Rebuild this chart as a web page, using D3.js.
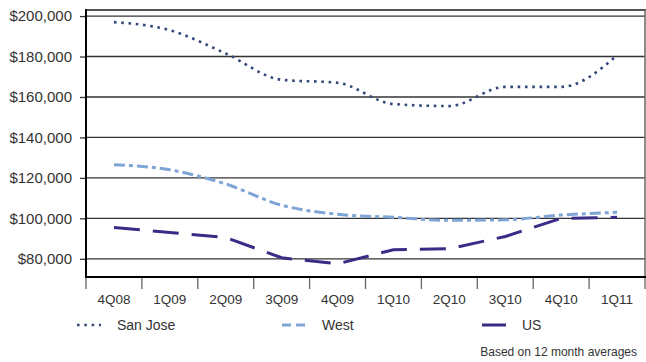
<!DOCTYPE html>
<html>
<head>
<meta charset="utf-8">
<script src="https://cdn.jsdelivr.net/npm/d3@7"></script>
<style>
  body { margin: 0; background: #fff; }
  svg { display: block; font-family: "Liberation Sans", Arial, sans-serif; }
</style>
</head>
<body>
<div id="chart"></div>
<script>
// quarters on x axis
let quarters = ["4Q08", "1Q09", "2Q09", "3Q09", "4Q09", "1Q10", "2Q10", "3Q10", "4Q10", "1Q11"];

// median prices
let sanJose = [197000, 193000, 181500, 168500, 167000, 156500, 155500, 165000, 165000, 180500];
let west    = [126500, 124000, 117000, 106500, 102000, 100500, 99000, 99300, 101600, 103000];
let us      = [95500, 93000, 90500, 80500, 77500, 84500, 85000, 91000, 100000, 100500];

let yTicks = [80000, 100000, 120000, 140000, 160000, 180000, 200000];

let width = 646, height = 362;

let svg = d3.select("#chart")
    .append("svg")
    .attr("width", width)
    .attr("height", height);

let xScale = d3.scaleBand()
    .domain(quarters)
    .range([86, 645])
    .padding(0);

let yScale = d3.scaleLinear()
    .domain([71000, 203000])
    .range([277, 10]);

let fmt = d => "$" + d3.format(",")(d);

// gridlines
svg.append("g")
    .selectAll("line")
    .data(yTicks)
    .enter()
    .append("line")
    .attr("x1", 86).attr("x2", 645)
    .attr("y1", d => yScale(d)).attr("y2", d => yScale(d))
    .attr("stroke", "#333")
    .attr("stroke-width", 1.3);

// top + right frame
svg.append("line")
    .attr("x1", 86).attr("x2", 646).attr("y1", 10).attr("y2", 10)
    .attr("stroke", "#555").attr("stroke-width", 2);
svg.append("line")
    .attr("x1", 645).attr("x2", 645).attr("y1", 10).attr("y2", 277)
    .attr("stroke", "#666").attr("stroke-width", 1.5);

// y axis
let yAxis = svg.append("g")
    .attr("transform", "translate(86,0)")
    .call(d3.axisLeft(yScale).tickValues(yTicks).tickSize(6).tickPadding(8).tickFormat(fmt));
yAxis.select(".domain").remove();
yAxis.selectAll(".tick line").attr("stroke", "#333").attr("stroke-width", 1.3);
yAxis.selectAll("text")
    .attr("font-size", "15px")
    .attr("font-family", "Liberation Sans, Arial, sans-serif")
    .attr("fill", "#333");

// x axis labels
let xAxis = svg.append("g")
    .attr("transform", "translate(0,277)")
    .call(d3.axisBottom(xScale).tickSize(0).tickPadding(17));
xAxis.select(".domain").remove();
xAxis.selectAll("text")
    .attr("font-size", "13.5px")
    .attr("font-family", "Liberation Sans, Arial, sans-serif")
    .attr("fill", "#333");

// x ticks at band edges
let edges = quarters.map(q => xScale(q)).concat([xScale.range()[1]]);
svg.append("g")
    .selectAll("line")
    .data(edges)
    .enter()
    .append("line")
    .attr("x1", d => d).attr("x2", d => d)
    .attr("y1", 277).attr("y2", 289)
    .attr("stroke", "#666").attr("stroke-width", 1.3);

// main axis lines
svg.append("line")
    .attr("x1", 86).attr("x2", 86).attr("y1", 9).attr("y2", 278)
    .attr("stroke", "#000").attr("stroke-width", 2);
svg.append("line")
    .attr("x1", 85).attr("x2", 646).attr("y1", 277).attr("y2", 277)
    .attr("stroke", "#000").attr("stroke-width", 2);

let cx = q => xScale(q) + xScale.bandwidth() / 2;

let series = [
    {name: "San Jose", values: sanJose, color: "#34477a", dash: "2.6,4.7", legDash: "2.6,4.7", width: 2.6, curve: d3.curveMonotoneX, lx: 77},
    {name: "West", values: west, color: "#7ea5d5", dash: "11,4,4,4", legDash: "9,5", width: 3, curve: d3.curveMonotoneX, lx: 282},
    {name: "US", values: us, color: "#3b2a86", dash: "26,13", legDash: null, width: 3, curve: d3.curveLinear, lx: 482}
];

series.forEach(s => {
    let line = d3.line()
        .x((d, i) => cx(quarters[i]))
        .y(d => yScale(d))
        .curve(s.curve);
    svg.append("path")
        .datum(s.values)
        .attr("fill", "none")
        .attr("stroke", s.color)
        .attr("stroke-width", s.width)
        .attr("stroke-dasharray", s.dash)
        .attr("d", line);
});

// legend
let legend = svg.append("g");
series.forEach(s => {
    legend.append("line")
        .attr("x1", s.lx).attr("x2", s.lx + 24)
        .attr("y1", 325).attr("y2", 325)
        .attr("stroke", s.color)
        .attr("stroke-width", s.width)
        .attr("stroke-dasharray", s.legDash);
    legend.append("text")
        .attr("x", s.lx + 40)
        .attr("y", 330)
        .attr("font-size", "14px")
        .attr("fill", "#333")
        .text(s.name);
});

svg.append("text")
    .attr("x", 637)
    .attr("y", 356)
    .attr("text-anchor", "end")
    .attr("font-size", "12px")
    .attr("fill", "#333")
    .text("Based on 12 month averages");
</script>
</body>
</html>
